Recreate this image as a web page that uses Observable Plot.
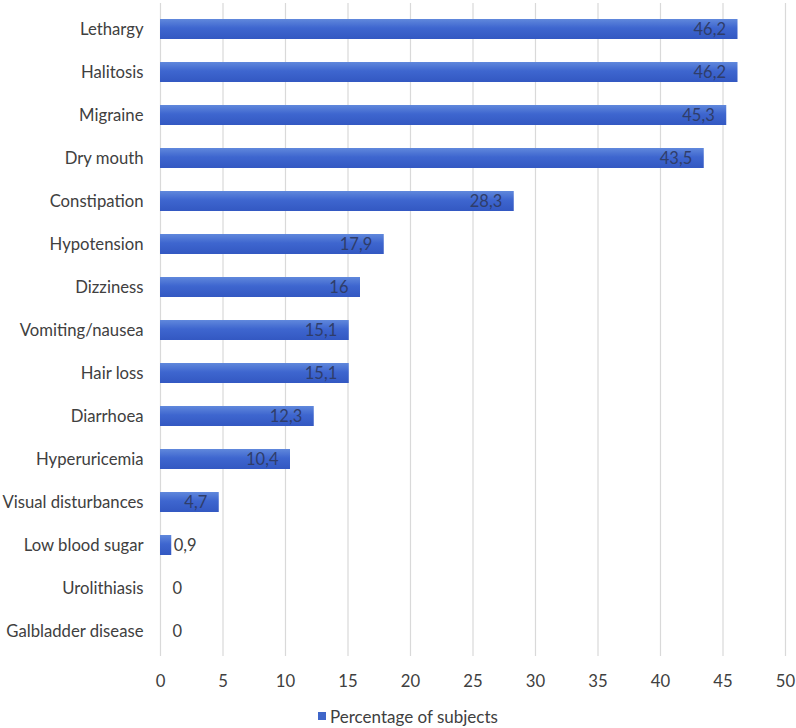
<!DOCTYPE html>
<html>
<head>
<meta charset="utf-8">
<script src="https://cdn.jsdelivr.net/npm/d3@7"></script>
<script src="https://cdn.jsdelivr.net/npm/@observablehq/plot@0.6"></script>
<style>
  html, body { margin: 0; padding: 0; background: #fff; }
  #chart { width: 796px; font-family: Lato, "Open Sans", sans-serif; }
  .legend { height: 28px; display: flex; align-items: center; font-size: 17px; color: #404040; padding-left: 318px; }
  .legend .sw { width: 8px; height: 8px; background: #3f66c9; margin-right: 4px; }
</style>
</head>
<body>
<div id="chart"></div>
<script>
const categories = ["Lethargy", "Halitosis", "Migraine", "Dry mouth", "Constipation", "Hypotension", "Dizziness", "Vomiting/nausea", "Hair loss", "Diarrhoea", "Hyperuricemia", "Visual disturbances", "Low blood sugar", "Urolithiasis", "Galbladder disease"];
const values = [46.2, 46.2, 45.3, 43.5, 28.3, 17.9, 16, 15.1, 15.1, 12.3, 10.4, 4.7, 0.9, 0, 0];
const xTicks = [0, 5, 10, 15, 20, 25, 30, 35, 40, 45, 50];
const seriesName = "Percentage of subjects";

const data = categories.map((c, i) => ({category: c, value: values[i], label: String(values[i]).replace(".", ",")}));
const inside = data.filter(d => d.value >= 3);
const outsideSmall = data.filter(d => d.value > 0 && d.value < 3);
const zeros = data.filter(d => d.value === 0);

const plot = Plot.plot({
  width: 796,
  height: 702,
  marginTop: 3,
  marginBottom: 46,
  marginLeft: 160,
  marginRight: 11,
  style: {fontFamily: "Lato, 'Open Sans', sans-serif", fontSize: "16.7px", color: "#404040", background: "#fff"},
  x: {domain: [0, 50], ticks: xTicks, tickSize: 0, tickPadding: 19, label: null},
  y: {domain: categories, paddingInner: 0.54, paddingOuter: 0.27, tickSize: 0, tickPadding: 17, label: null},
  marks: [
    Plot.ruleX(xTicks, {stroke: "#d9d9d9", strokeWidth: 1.2}),
    Plot.barX(data, {x: "value", y: "category", fill: "url(#barGrad)", style: "filter: drop-shadow(2px 2px 1.5px rgba(0,0,0,0.35))"}),
    Plot.text(inside, {x: "value", y: "category", text: "label", textAnchor: "end", dx: -12, fill: "#2f3d6a", fontSize: 16.5}),
    Plot.text(outsideSmall, {x: "value", y: "category", text: "label", textAnchor: "start", dx: 2, fill: "#404040", fontSize: 16.5}),
    Plot.text(zeros, {x: "value", y: "category", text: "label", textAnchor: "start", dx: 12, fill: "#404040", fontSize: 16.5})
  ]
});

const ns = "http://www.w3.org/2000/svg";
const defs = document.createElementNS(ns, "defs");
defs.innerHTML = '<linearGradient id="barGrad" x1="0" y1="0" x2="0" y2="1">' +
  '<stop offset="0" stop-color="#6088dc"/>' +
  '<stop offset="0.45" stop-color="#3e66cf"/>' +
  '<stop offset="1" stop-color="#3358c2"/></linearGradient>';
plot.insertBefore(defs, plot.firstChild);

document.getElementById("chart").appendChild(plot);
const legend = document.createElement("div");
legend.className = "legend";
legend.innerHTML = '<div class="sw"></div><span>' + seriesName + '</span>';
document.getElementById("chart").appendChild(legend);
</script>
</body>
</html>
